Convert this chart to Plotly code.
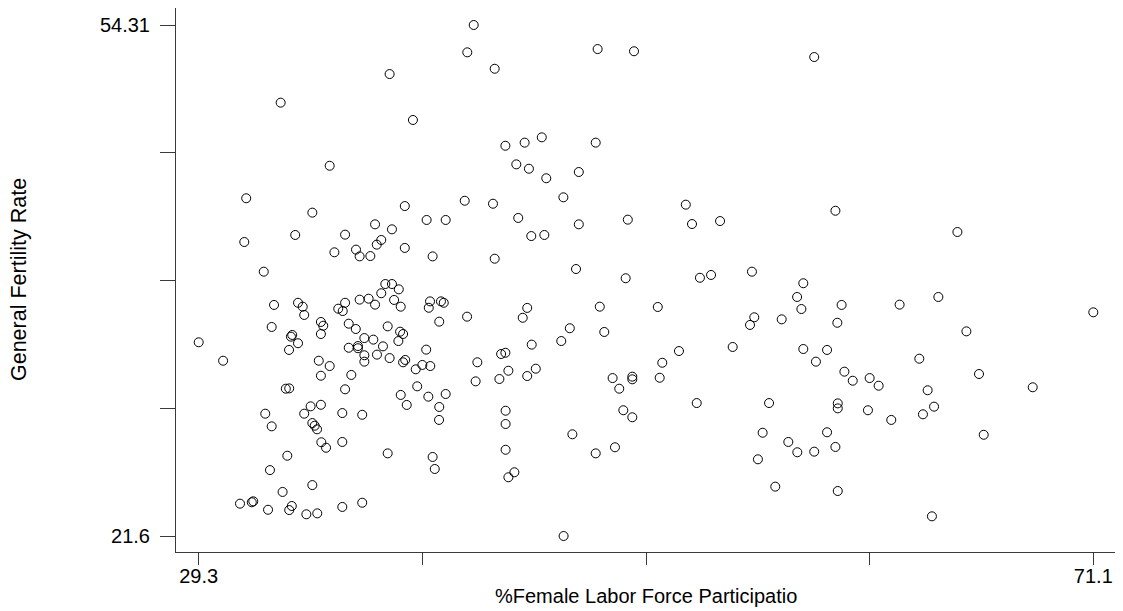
import plotly.graph_objects as go

# %Female Labor Force Participation (x) and General Fertility Rate (y)
female_lfp = [
    42.15, 41.85, 38.22, 33.13, 39.31, 35.42, 31.52, 41.73, 38.93, 34.61,
    39.95, 40.84, 37.54, 38.33, 33.81, 36.14, 31.43, 37.83, 37.62, 38.93,
    35.64, 36.65, 36.82, 37.32, 40.23, 32.34,
    38.02, 38.33, 38.65, 37.83, 32.82, 33.94, 34.16, 34.23, 36.14, 35.82,
    36.03, 36.82, 37.24, 37.54, 38.43, 38.74, 40.11, 40.62, 40.75, 40.05,
    41.84, 40.54, 32.71, 35.01, 35.12, 35.01, 36.31, 36.64, 38.13, 38.71,
    38.85, 33.67, 33.61, 33.94, 33.52, 29.30, 37.04, 37.46, 38.63, 36.31,
    36.74, 36.74, 37.91, 39.93, 30.44, 34.91, 35.42, 37.04, 37.04, 37.63,
    38.22, 38.95, 38.85, 39.44, 39.75, 40.12, 42.32, 35.01, 36.43, 42.24,
    33.37, 33.53, 36.14, 39.51, 38.74, 40.03, 40.84, 39.02, 40.54, 34.53,
    35.01, 32.41, 34.23, 36.01, 36.94, 40.53, 32.71, 34.61, 34.72, 34.83,
    35.03, 35.25, 36.01, 38.13, 33.44, 40.23, 40.33, 32.63, 34.61, 33.22,
    31.23, 31.78, 31.85, 32.54, 33.53, 33.65, 34.33, 34.84, 36.01, 36.94,
    43.13, 47.94, 49.64, 45.33, 43.63, 44.53, 47.85, 44.14, 44.73, 45.54,
    47.06, 46.34, 43.05, 52.06, 44.23, 47.06, 49.35, 52.35, 53.66, 44.84,
    45.45, 43.13, 46.93, 49.25, 52.72, 53.24, 55.15,
    57.55, 57.26, 57.46, 44.65, 44.44, 48.04, 50.75, 55.26, 55.06, 56.54,
    46.64, 48.25, 46.24, 44.86, 43.43, 43.63, 51.74, 54.25, 57.55, 43.77,
    43.35, 44.65, 45.05, 50.96, 48.64, 49.56, 49.56, 50.84, 48.95, 52.57,
    55.95, 43.64, 43.64, 49.14, 49.56, 46.76, 55.65, 56.85, 57.27, 43.64,
    48.75, 47.85, 55.43, 44.05, 43.77, 56.24, 46.35,
    58.06, 59.05, 64.75,
    59.34, 59.14, 62.05, 63.86, 71.10, 65.17, 58.66, 58.14, 62.97, 65.76,
    59.47, 59.86, 60.65, 61.07, 63.36, 68.27, 59.16, 59.16, 60.57, 61.66,
    63.14, 63.66, 58.66, 65.98, 58.06, 59.05, 59.16, 63.56,
]

fertility_rate = [
    54.31, 52.56, 51.17, 49.34, 48.23, 45.30, 43.22, 43.06, 42.72, 42.30,
    41.83, 41.83, 41.55, 41.23, 40.87, 40.89, 40.42, 40.55, 40.25, 40.04,
    39.76, 39.93, 39.50, 39.52, 39.50, 38.52,
    37.73, 37.73, 37.39, 37.14, 36.39, 36.53, 36.28, 35.75, 36.53, 36.15,
    36.00, 36.73, 36.79, 36.41, 36.71, 36.28, 36.62, 36.62, 36.53, 36.21,
    35.64, 35.32, 34.98, 35.30, 35.06, 34.53, 35.19, 34.85, 35.02, 34.68,
    34.53, 34.47, 34.36, 33.94, 33.51, 34.00, 34.27, 34.17, 34.08, 33.65,
    33.76, 33.62, 33.74, 33.53, 32.82, 32.82, 32.48, 33.17, 32.76, 33.21,
    32.99, 32.87, 32.72, 32.27, 32.55, 32.48, 32.72, 31.86, 31.91, 31.50,
    31.03, 31.05, 30.99, 31.18, 30.63, 30.52, 30.69, 29.99, 29.86, 29.90,
    30.00, 29.43, 29.43, 29.47, 29.36, 29.03, 28.62, 28.83, 28.66, 28.43,
    27.60, 27.25, 27.62, 26.89, 26.74, 26.66, 25.89, 25.82, 24.86, 24.42,
    23.67, 23.76, 23.82, 23.28, 23.26, 23.52, 22.99, 23.05, 23.46, 23.73,
    51.51, 52.77, 52.63, 47.12, 46.58, 46.78, 46.78, 45.39, 45.11, 44.50,
    44.90, 43.28, 42.87, 42.81, 41.96, 41.55, 41.85, 41.57, 41.76, 40.80,
    40.87, 39.35, 38.69, 38.10, 38.13, 38.31, 38.52,
    37.78, 36.90, 36.13, 36.20, 35.57, 36.28, 36.26, 35.60, 35.11, 35.47,
    34.90, 34.66, 34.08, 33.85, 33.25, 33.33, 33.44, 33.70, 33.57, 32.18,
    31.65, 31.84, 32.31, 32.69, 31.71, 31.80, 31.63, 31.73, 31.03, 30.11,
    30.11, 29.62, 28.77, 29.65, 29.20, 28.11, 28.21, 27.62, 26.96, 27.12,
    27.28, 26.89, 26.51, 25.68, 25.36, 24.76, 21.60,
    52.26, 42.42, 41.06,
    36.39, 35.25, 36.41, 36.90, 35.92, 34.70, 33.51, 32.76, 32.95, 31.97,
    32.12, 31.54, 31.71, 31.22, 30.93, 31.12, 30.09, 29.77, 29.65, 29.03,
    29.39, 29.88, 28.24, 28.08, 27.00, 27.30, 24.48, 22.86,
]

x_min, x_max = 29.3, 71.1
y_min, y_max = 21.6, 54.31
x_tick_text = ["29.3", "", "", "", "71.1"]
y_tick_text = ["21.6", "", "", "", "54.31"]

x_title = "%Female Labor Force Participatio"
y_title = "General Fertility Rate"

x_step = (x_max - x_min) / 4
y_step = (y_max - y_min) / 4
x_ticks = [x_min + i * x_step for i in range(5)]
y_ticks = [y_min + i * y_step for i in range(5)]

FONT = "Liberation Sans, Arial, sans-serif"
AX = "#3a3a3a"

fig = go.Figure()
fig.add_trace(go.Scatter(
    x=female_lfp, y=fertility_rate, mode="markers",
    marker=dict(symbol="circle-open", size=9, color="black",
                line=dict(width=1, color="black")),
    showlegend=False, hoverinfo="x+y",
))

fig.update_layout(
    width=1115, height=603,
    margin=dict(l=168, r=7, t=0, b=59),
    paper_bgcolor="white", plot_bgcolor="white",
    font=dict(family=FONT, size=20, color="black"),
    xaxis=dict(
        range=[x_min - 0.1015 * x_step, x_max + 0.1015 * x_step],
        tickvals=x_ticks, ticktext=x_tick_text,
        showgrid=False, zeroline=False,
        showline=True, linecolor=AX, linewidth=1,
        ticks="outside", ticklen=12, tickcolor=AX, tickwidth=1,
        ticklabelstandoff=-6,
        tickfont=dict(size=20, family=FONT, color="black"),
        fixedrange=True,
    ),
    yaxis=dict(
        range=[y_min - 0.1252 * y_step, y_max + 0.1331 * y_step],
        tickvals=y_ticks, ticktext=y_tick_text,
        showgrid=False, zeroline=False,
        showline=True, linecolor=AX, linewidth=1,
        ticks="outside", ticklen=15, tickcolor=AX, tickwidth=1,
        ticklabelstandoff=6,
        tickfont=dict(size=20, family=FONT, color="black"),
        fixedrange=True,
    ),
    annotations=[
        dict(text=x_title, xref="paper", yref="paper", x=0.5, y=-0.081,
             xanchor="center", yanchor="middle", showarrow=False,
             font=dict(size=20, family=FONT, color="black")),
        dict(text=y_title, xref="paper", yref="paper", x=-0.167, y=0.5,
             xanchor="center", yanchor="middle", showarrow=False,
             textangle=-90,
             font=dict(size=21.5, family=FONT, color="black")),
    ],
)

fig.write_html("out.html")
